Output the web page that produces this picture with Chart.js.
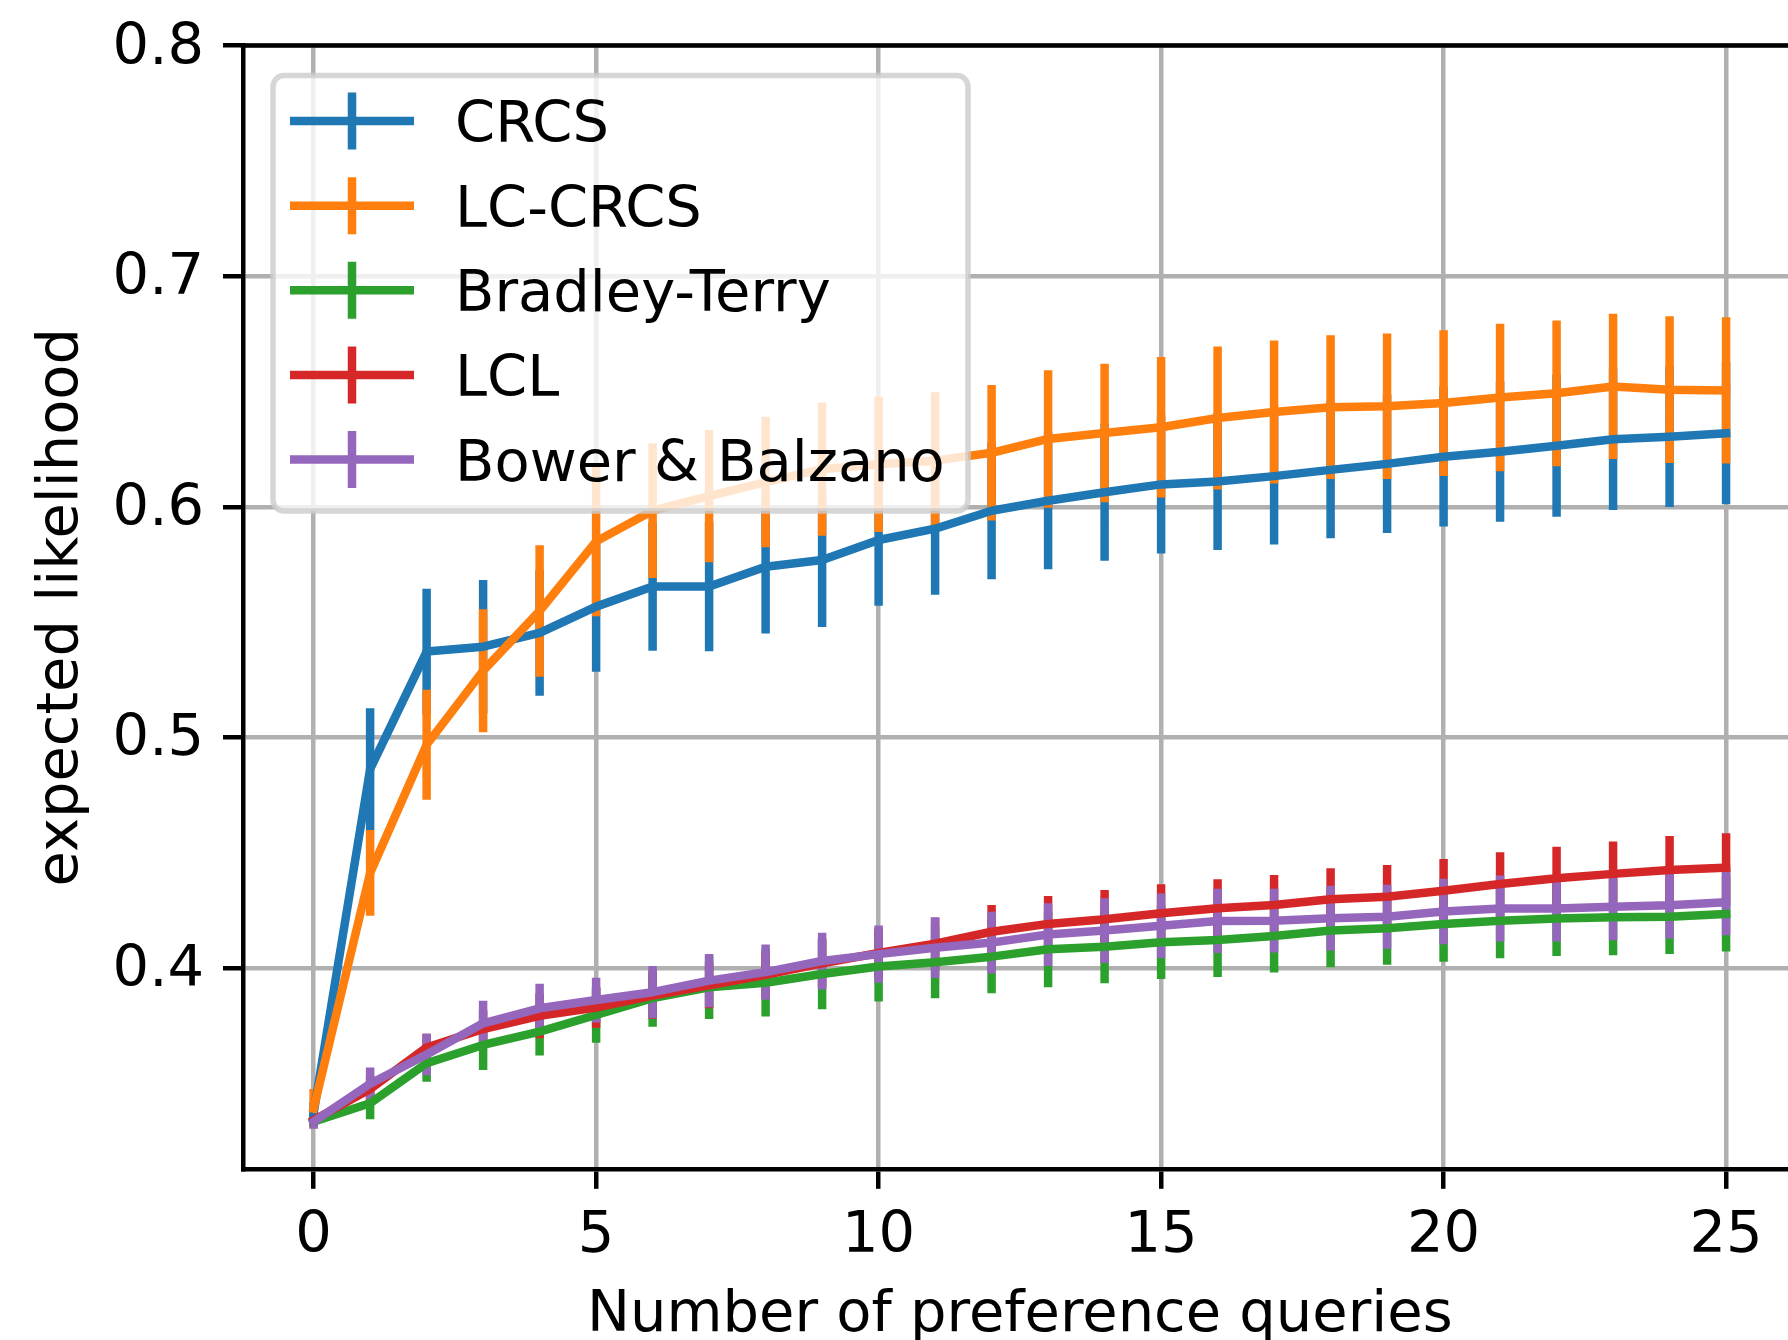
<!DOCTYPE html>
<html>
<head>
<meta charset="utf-8">
<script src="https://cdn.jsdelivr.net/npm/chart.js@4.4.1/dist/chart.umd.min.js"></script>
<style>
  html, body { margin: 0; padding: 0; background: #fff; overflow: hidden; }
</style>
</head>
<body>
<canvas id="chart" width="1800" height="1340"></canvas>
<script>
// values
const queries = [0, 1, 2, 3, 4, 5, 6, 7, 8, 9, 10, 11, 12, 13, 14, 15, 16, 17, 18, 19, 20, 21, 22, 23, 24, 25]

const crcs = [0.3370, 0.4862, 0.5372, 0.5393, 0.5453, 0.5567, 0.5654, 0.5654, 0.5740, 0.5769, 0.5856, 0.5905, 0.5983,
  0.6026, 0.6063, 0.6097, 0.6110, 0.6133, 0.6160, 0.6186, 0.6217, 0.6239, 0.6265, 0.6293, 0.6304, 0.6319]
const crcsErr = [0.005, 0.0264, 0.0272, 0.029, 0.0272, 0.0282, 0.0278, 0.028, 0.029, 0.029, 0.0285, 0.0287, 0.0297,
  0.0297, 0.0297, 0.030, 0.0297, 0.0297, 0.0297, 0.030, 0.0303, 0.0304, 0.0308, 0.0307, 0.0305, 0.0308]

const lcCrcs = [0.3390, 0.4412, 0.4968, 0.5289, 0.5548, 0.5850, 0.5983, 0.6046, 0.6107, 0.6163, 0.6184, 0.6200, 0.6234,
  0.6294, 0.6320, 0.6345, 0.6385, 0.6411, 0.6432, 0.6436, 0.6450, 0.6474, 0.6492, 0.6522, 0.6508, 0.6505]
const lcCrcsErr = [0.0085, 0.0186, 0.0239, 0.0267, 0.0285, 0.0325, 0.0292, 0.0287, 0.0283, 0.0289, 0.0293, 0.0297, 0.0294,
  0.0298, 0.030, 0.0305, 0.031, 0.031, 0.0312, 0.0316, 0.0316, 0.032, 0.0316, 0.0315, 0.0318, 0.0317]

const bradleyTerry = [0.3333, 0.3413, 0.3587, 0.3666, 0.3724, 0.3796, 0.3869, 0.3916, 0.3936, 0.3974, 0.4006, 0.4025, 0.4049,
  0.4081, 0.4092, 0.4111, 0.4121, 0.4139, 0.4162, 0.4172, 0.4191, 0.4205, 0.4215, 0.4220, 0.4222, 0.4234]
const bradleyTerryErr = [0.002, 0.0069, 0.008, 0.0108, 0.0104, 0.012, 0.0124, 0.0137, 0.0147, 0.0153, 0.0152, 0.0156, 0.0159,
  0.0165, 0.0158, 0.0159, 0.016, 0.0159, 0.0159, 0.0158, 0.0164, 0.0163, 0.0163, 0.0165, 0.0161, 0.0163]

const lcl = [0.3340, 0.3475, 0.3655, 0.3735, 0.3792, 0.3828, 0.3880, 0.3925, 0.3970, 0.4020, 0.4065, 0.4105, 0.4157,
  0.4191, 0.4211, 0.4237, 0.4259, 0.4273, 0.4298, 0.4309, 0.4335, 0.4364, 0.4389, 0.4408, 0.4425, 0.4435]
const lclErr = [0.002, 0.006, 0.006, 0.008, 0.0097, 0.0087, 0.010, 0.010, 0.010, 0.0105, 0.011, 0.0113, 0.0116,
  0.0121, 0.0127, 0.0126, 0.0126, 0.013, 0.0134, 0.0138, 0.0138, 0.0138, 0.0137, 0.014, 0.0147, 0.0149]

const bowerBalzano = [0.3333, 0.3498, 0.3625, 0.3760, 0.3825, 0.3861, 0.3895, 0.3945, 0.3982, 0.4030, 0.4060, 0.4088, 0.4110,
  0.4145, 0.4162, 0.4183, 0.4204, 0.4205, 0.4216, 0.4222, 0.4245, 0.4258, 0.4258, 0.4265, 0.4272, 0.4285]
const bowerBalzanoErr = [0.003, 0.007, 0.009, 0.0098, 0.0106, 0.0097, 0.0113, 0.0115, 0.012, 0.0123, 0.0124, 0.0132, 0.0134,
  0.0136, 0.014, 0.014, 0.0139, 0.0138, 0.014, 0.0139, 0.0142, 0.0143, 0.0143, 0.0145, 0.0144, 0.0143]

const xTicks = [0, 5, 10, 15, 20, 25]
const yTicks = [0.4, 0.5, 0.6, 0.7, 0.8]
const yTickLabels = ['0.4', '0.5', '0.6', '0.7', '0.8']

const series = [
  { label: 'CRCS', mean: crcs, err: crcsErr, color: '#1f77b4' },
  { label: 'LC-CRCS', mean: lcCrcs, err: lcCrcsErr, color: '#ff7f0e' },
  { label: 'Bradley-Terry', mean: bradleyTerry, err: bradleyTerryErr, color: '#2ca02c' },
  { label: 'LCL', mean: lcl, err: lclErr, color: '#d62728' },
  { label: 'Bower & Balzano', mean: bowerBalzano, err: bowerBalzanoErr, color: '#9467bd' }
]

const LW = 8.5      // 1.5pt line at the figure's dpi
const AXW = 4.5     // 0.8pt spines / ticks / grid
const FONT = 57.5   // 10pt text
const TICK = 20

Chart.defaults.font.family = "'DejaVu Sans', sans-serif"
Chart.defaults.font.size = FONT
Chart.defaults.color = '#000'

// error bars: one segment per query, separated by gaps
const errSets = series.map((s, i) => ({
  label: s.label + ' err',
  data: queries.flatMap((q, j) => [
    { x: q, y: s.mean[j] - s.err[j] },
    { x: q, y: s.mean[j] + s.err[j] },
    { x: q, y: null }
  ]),
  borderColor: s.color,
  borderWidth: LW,
  borderCapStyle: 'butt',
  pointRadius: 0,
  spanGaps: false,
  order: 10 - i
}))

const meanSets = series.map((s, i) => ({
  label: s.label,
  isMean: true,
  data: queries.map((q, j) => ({ x: q, y: s.mean[j] })),
  borderColor: s.color,
  borderWidth: LW,
  borderCapStyle: 'square',
  borderJoinStyle: 'round',
  pointRadius: 0,
  tension: 0,
  order: 5 - i
}))

// top and right spines
const frame = {
  id: 'frame',
  afterDatasetsDraw(chart) {
    const { ctx, chartArea: a } = chart
    ctx.save()
    ctx.strokeStyle = '#000'
    ctx.lineWidth = AXW
    ctx.lineCap = 'square'
    ctx.beginPath()
    ctx.moveTo(a.left, a.top)
    ctx.lineTo(a.right, a.top)
    ctx.lineTo(a.right, a.bottom)
    ctx.stroke()
    ctx.restore()
  }
}

// matplotlib-like legend drawn inside the axes
const boxLegend = {
  id: 'boxLegend',
  afterDraw(chart) {
    const { ctx, chartArea: a } = chart
    const items = chart.data.datasets.filter(d => d.isMean)
    const x0 = a.left + 30, y0 = a.top + 30
    ctx.save()
    ctx.beginPath()
    ctx.roundRect(x0, y0, 695, 435.5, 11)
    ctx.fillStyle = 'rgba(255,255,255,0.8)'
    ctx.fill()
    ctx.lineWidth = 5.5
    ctx.strokeStyle = 'rgba(204,204,204,0.8)'
    ctx.stroke()
    ctx.font = FONT + "px 'DejaVu Sans'"
    ctx.textBaseline = 'alphabetic'
    items.forEach((ds, i) => {
      const cy = y0 + 45.5 + i * 84.6
      ctx.strokeStyle = ds.borderColor
      ctx.lineWidth = LW
      ctx.lineCap = 'butt'
      ctx.beginPath()
      ctx.moveTo(x0 + 17, cy)
      ctx.lineTo(x0 + 141, cy)
      ctx.moveTo(x0 + 79, cy - 28.5)
      ctx.lineTo(x0 + 79, cy + 28.5)
      ctx.stroke()
      ctx.fillStyle = '#000'
      ctx.fillText(ds.label, x0 + 182, cy + 21)
    })
    ctx.restore()
  }
}

const ctx = document.getElementById('chart').getContext('2d')

const chart = new Chart(ctx, {
  type: 'line',
  data: { datasets: [...errSets, ...meanSets] },
  options: {
    responsive: false,
    animation: false,
    events: [],
    layout: { padding: { top: 45.6, right: 3.3, left: 0, bottom: 0 } },
    plugins: {
      legend: { display: false },
      tooltip: { enabled: false }
    },
    scales: {
      x: {
        type: 'linear',
        min: -1.25,
        max: 26.25,
        offset: false,
        afterBuildTicks: s => { s.ticks = xTicks.map(v => ({ value: v })) },
        afterFit: s => { s.height = 171.2; s.paddingLeft = 0; s.paddingRight = 0 },
        ticks: { padding: 14, maxRotation: 0, callback: v => String(v) },
        grid: { color: '#b0b0b0', lineWidth: AXW, tickLength: TICK, tickColor: '#000', tickWidth: AXW },
        border: { color: '#000', width: AXW },
        title: { display: true, text: 'Number of preference queries', padding: { top: 0, bottom: -11 } }
      },
      y: {
        type: 'linear',
        min: 0.3129,
        max: 0.8,
        afterBuildTicks: s => { s.ticks = yTicks.map(v => ({ value: v })) },
        afterFit: s => { s.width = 243; s.paddingTop = 0; s.paddingBottom = 0 },
        ticks: { padding: 19, labelOffset: 3, callback: (v, i) => yTickLabels[i] },
        grid: { color: '#b0b0b0', lineWidth: AXW, tickLength: TICK, tickColor: '#000', tickWidth: AXW },
        border: { color: '#000', width: AXW },
        title: { display: true, text: 'expected likelihood', padding: { top: 28, bottom: 0 } }
      }
    }
  },
  plugins: [frame, boxLegend]
})
</script>
</body>
</html>
